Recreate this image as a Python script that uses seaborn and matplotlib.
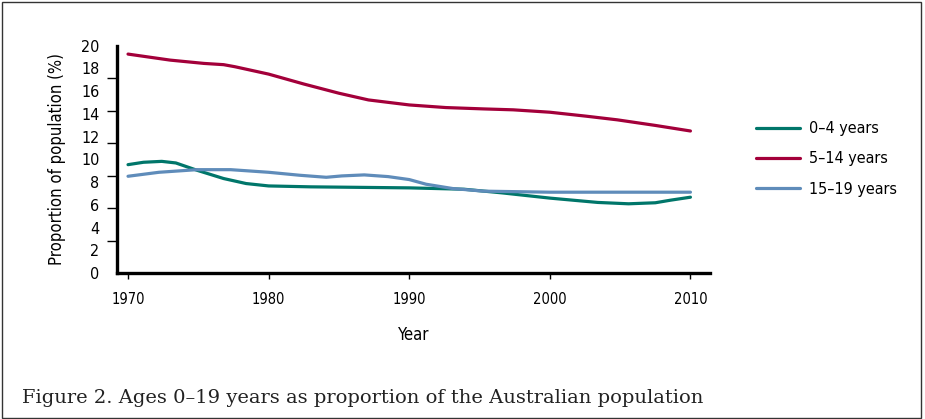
import numpy as np
import pandas as pd
import matplotlib.pyplot as plt
import seaborn as sns
from matplotlib.patches import Rectangle

# values (proportion of population, %)
years_0_4 = [1970, 1971.1, 1972.4, 1973.4, 1974.9, 1976.8, 1978.4, 1980, 1983,
             1990, 1993.9, 1996.6, 2000, 2003.4, 2005.6, 2007.5, 2008.6, 2010]
vals_0_4 = [9.54, 9.75, 9.83, 9.69, 9.05, 8.32, 7.88, 7.67, 7.59,
            7.5, 7.38, 7.06, 6.6, 6.22, 6.1, 6.19, 6.42, 6.68]

years_5_14 = [1970, 1973, 1975.4, 1976.8, 1977.6, 1980, 1982.5, 1985, 1987.1,
              1990, 1992.6, 1995.3, 1997.4, 2000, 2002.6, 2004.8, 2007.5, 2010]
vals_5_14 = [19.26, 18.73, 18.44, 18.33, 18.15, 17.5, 16.63, 15.82, 15.23,
             14.79, 14.56, 14.44, 14.36, 14.15, 13.8, 13.48, 12.99, 12.5]

years_15_19 = [1970, 1972.2, 1974.9, 1977.3, 1980, 1982.2, 1984.1, 1985.2, 1986.8,
               1988.5, 1990, 1991.2, 1993.1, 1995.3, 2000, 2010]
vals_15_19 = [8.52, 8.87, 9.1, 9.1, 8.87, 8.61, 8.43, 8.55, 8.64,
              8.49, 8.23, 7.82, 7.44, 7.21, 7.12, 7.12]

groups = ['0\u20134 years', '5\u201314 years', '15\u201319 years']
colors = ['#00766a', '#a3003a', '#5f8cba']

x_ticks = [1970, 1980, 1990, 2000, 2010]
y_labels = list(range(0, 21, 2))

df = pd.concat([
    pd.DataFrame({'Year': years_0_4, 'value': vals_0_4, 'group': groups[0]}),
    pd.DataFrame({'Year': years_5_14, 'value': vals_5_14, 'group': groups[1]}),
    pd.DataFrame({'Year': years_15_19, 'value': vals_15_19, 'group': groups[2]}),
])

sns.set_style('white')
plt.rcParams['font.family'] = ['DejaVu Sans']
plt.rcParams['font.stretch'] = 'condensed'
plt.rcParams['text.color'] = 'black'
plt.rcParams['axes.labelcolor'] = 'black'
plt.rcParams['xtick.color'] = 'black'
plt.rcParams['ytick.color'] = 'black'

fig = plt.figure(figsize=(9.25, 4.19), dpi=100)
ax = fig.add_axes([0.127, 0.348, 0.641, 0.543])

sns.lineplot(data=df, x='Year', y='value', hue='group', hue_order=groups,
             palette=dict(zip(groups, colors)), linewidth=2.3, ax=ax,
             sort=True, estimator=None)

ax.set_xlim(1969.25, 2011.42)
ax.set_ylim(0, 20)

ax.set_xticks(x_ticks)
ax.tick_params(axis='x', bottom=True, direction='out', length=4.5, width=1,
               pad=9, labelsize=10.5)

# labels every 2, tick marks (oddly) at 7 equal steps, as in the original
ax.set_yticks(y_labels)
ax.tick_params(axis='y', which='major', left=True, length=0, pad=13,
               labelsize=11.5)
ax.set_yticks(np.linspace(0, 20, 8), minor=True)
ax.tick_params(axis='y', which='minor', left=True, direction='out',
               length=7.5, width=1)

for s in ['top', 'right']:
    ax.spines[s].set_visible(False)
for s in ['left', 'bottom']:
    ax.spines[s].set_linewidth(2.4)
    ax.spines[s].set_color('black')

ax.set_xlabel('Year', fontsize=12, labelpad=14)
ax.set_ylabel('Proportion of population (%)', fontsize=12, labelpad=11)

ax.legend(title=None, frameon=False, loc='center left',
          bbox_to_anchor=(1.052, 0.502), fontsize=11.5, handlelength=2.8,
          handletextpad=0.55, labelspacing=0.95)

fig.text(22 / 925, 1 - 398 / 419,
         'Figure 2. Ages 0\u201319 years as proportion of the Australian population',
         fontsize=14, family=['DejaVu Serif'], stretch='normal', va='center',
         ha='left', color='#222222')

fig.patches.append(Rectangle((2 / 925, 1 / 419), 919 / 925, 416 / 419,
                             transform=fig.transFigure, fill=False,
                             edgecolor='#333333', linewidth=1))

fig.savefig('out.png', dpi=100)
